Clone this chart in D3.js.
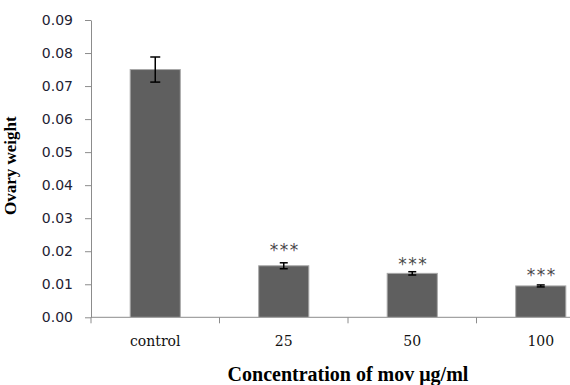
<!DOCTYPE html>
<html>
<head>
<meta charset="utf-8">
<script src="https://cdn.jsdelivr.net/npm/d3@7"></script>
<style>
  body { margin: 0; background: #fff; }
  svg { display: block; }
</style>
</head>
<body>
<div id="chart"></div>
<script>
// data
const categories = ["control", "25", "50", "100"];
const means = [0.075, 0.0156, 0.0133, 0.0095];
const errors = [0.0038, 0.0009, 0.0005, 0.0003];
const sigLabels = ["", "***", "***", "***"];
const sigLevels = [null, 0.0217, 0.0174, 0.0140]; // where the stars sit, in y units
const yTicks = [0, 0.01, 0.02, 0.03, 0.04, 0.05, 0.06, 0.07, 0.08, 0.09];

const width = 570, height = 385;
const plot = { left: 91, right: 605, top: 20, bottom: 317.3 };

const svg = d3.select("#chart")
    .append("svg")
    .attr("width", width)
    .attr("height", height);

const x = d3.scaleBand()
    .domain(categories)
    .range([plot.left, plot.right])
    .padding(0);

const y = d3.scaleLinear()
    .domain([0, 0.09])
    .range([plot.bottom, plot.top]);

const barW = x.bandwidth() * 0.39;

// y axis
const yAxis = d3.axisLeft(y)
    .tickValues(yTicks)
    .tickFormat(d3.format(".2f"))
    .tickSizeInner(6)
    .tickSizeOuter(0)
    .tickPadding(12);

const gy = svg.append("g")
    .attr("transform", `translate(${plot.left},0)`)
    .call(yAxis);
gy.select(".domain").attr("stroke", "#8c8c8c");
gy.selectAll(".tick line").attr("stroke", "#8c8c8c");
gy.selectAll(".tick text")
    .attr("fill", "#1e2233")
    .style("font-family", "'DejaVu Sans', Verdana, sans-serif")
    .style("font-size", "14px");

// x axis line and slot ticks
svg.append("line")
    .attr("x1", plot.left).attr("x2", plot.right)
    .attr("y1", y(0)).attr("y2", y(0))
    .attr("stroke", "#8c8c8c");

const bounds = categories.map(c => x(c)).concat([plot.right]);
svg.selectAll(".xtick")
    .data(bounds)
    .enter()
    .append("line")
    .attr("class", "xtick")
    .attr("x1", d => d).attr("x2", d => d)
    .attr("y1", y(0)).attr("y2", y(0) + 6)
    .attr("stroke", "#8c8c8c");

// bars
svg.selectAll(".bar")
    .data(categories)
    .enter()
    .append("rect")
    .attr("class", "bar")
    .attr("x", d => x(d) + (x.bandwidth() - barW) / 2)
    .attr("y", (d, i) => y(means[i]))
    .attr("width", barW)
    .attr("height", (d, i) => y(0) - y(means[i]))
    .attr("fill", "#5f5f5f")
    .attr("stroke", "#a8a8a8")
    .attr("stroke-width", 1);

// error bars
const eb = svg.selectAll(".err")
    .data(categories)
    .enter()
    .append("g")
    .attr("class", "err")
    .attr("stroke", "#000")
    .attr("stroke-width", 1.5);

const cx = d => x(d) + x.bandwidth() / 2;
const capW = (i) => i === 0 ? 10 : 8;

eb.append("line")
    .attr("x1", cx).attr("x2", cx)
    .attr("y1", (d, i) => y(means[i] + errors[i]))
    .attr("y2", (d, i) => y(means[i] - errors[i]));
eb.append("line")
    .attr("x1", (d, i) => cx(d) - capW(i) / 2)
    .attr("x2", (d, i) => cx(d) + capW(i) / 2)
    .attr("y1", (d, i) => y(means[i] + errors[i]))
    .attr("y2", (d, i) => y(means[i] + errors[i]));
eb.append("line")
    .attr("x1", (d, i) => cx(d) - capW(i) / 2)
    .attr("x2", (d, i) => cx(d) + capW(i) / 2)
    .attr("y1", (d, i) => y(means[i] - errors[i]))
    .attr("y2", (d, i) => y(means[i] - errors[i]));

// significance stars
svg.selectAll(".sig")
    .data(categories.filter((d, i) => sigLabels[i]))
    .enter()
    .append("text")
    .attr("class", "sig")
    .attr("x", d => cx(d) + 1)
    .attr("y", d => y(sigLevels[categories.indexOf(d)]) + 10)
    .attr("text-anchor", "middle")
    .attr("fill", "#4a4a4a")
    .style("font-family", "'DejaVu Sans', sans-serif")
    .style("font-size", "17px")
    .style("letter-spacing", "1.5px")
    .text(d => sigLabels[categories.indexOf(d)]);

// category labels
svg.selectAll(".cat")
    .data(categories)
    .enter()
    .append("text")
    .attr("class", "cat")
    .attr("x", cx)
    .attr("y", 346)
    .attr("text-anchor", "middle")
    .attr("fill", "#111")
    .style("font-family", "'DejaVu Serif', serif")
    .style("font-size", "14px")
    .text(d => d);

// axis titles
svg.append("text")
    .attr("x", (plot.left + plot.right) / 2)
    .attr("y", 381)
    .attr("text-anchor", "middle")
    .attr("fill", "#000")
    .style("font-family", "'Liberation Serif', 'Times New Roman', serif")
    .style("font-weight", "bold")
    .style("font-size", "20px")
    .text("Concentration of mov μg/ml");

svg.append("text")
    .attr("transform", `translate(16,${(plot.top + plot.bottom) / 2 - 3}) rotate(-90)`)
    .attr("text-anchor", "middle")
    .attr("fill", "#000")
    .style("font-family", "'Liberation Serif', 'Times New Roman', serif")
    .style("font-weight", "bold")
    .style("font-size", "17px")
    .text("Ovary weight");
</script>
</body>
</html>
